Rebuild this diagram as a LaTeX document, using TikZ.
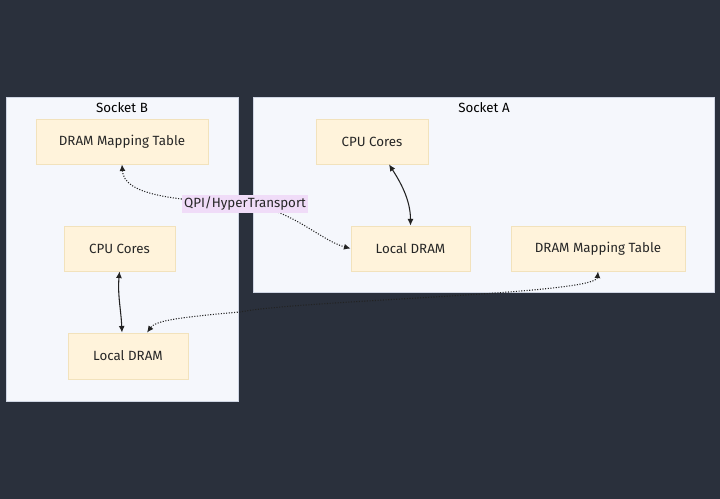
\documentclass[tikz,border=0pt]{standalone}
\usepackage{fontspec}
\setmainfont{Fira Sans}
\usetikzlibrary{arrows.meta,calc}
\definecolor{bgc}{HTML}{2A303C}
\definecolor{clfill}{HTML}{F5F7FC}
\definecolor{cldraw}{HTML}{CFD5E3}
\definecolor{nfill}{HTML}{FFF3DB}
\definecolor{ndraw}{HTML}{F2E2BC}
\definecolor{lblfill}{HTML}{F0DCF8}
\definecolor{edgec}{HTML}{222222}
\tikzset{
  cluster/.style={draw=cldraw, fill=clfill, line width=0.6pt},
  ctitle/.style={font=\fontsize{10}{12}\selectfont, text=black},
  box/.style={draw=ndraw, fill=nfill, line width=0.6pt, font=\fontsize{10}{12}\selectfont, text=black!85, inner sep=0pt},
  solidedge/.style={draw=edgec, line width=0.8pt, {Latex[length=5pt,width=4.5pt]}-{Latex[length=5pt,width=4.5pt]}},
  dotedge/.style={draw=edgec, line width=0.8pt, dash pattern=on 0.8pt off 1.2pt, {Latex[length=5pt,width=4.5pt]}-{Latex[length=5pt,width=4.5pt]}},
  elabel/.style={fill=lblfill, font=\fontsize{10}{12}\selectfont, text=black!85, inner sep=1.5pt}
}
\begin{document}
\begin{tikzpicture}[x=0.75pt,y=-0.75pt]
\useasboundingbox (0,0) rectangle (720,499);
\fill[bgc] (0,0) rectangle (720,499);
% clusters
\draw[cluster] (6,97) rectangle (238,401);
\draw[cluster] (253,97) rectangle (714,292);
\node[ctitle] (tB) at (122,108) {Socket B};
\node[ctitle] (tA) at (484,108) {Socket A};
% Socket B nodes
\node[box, minimum width=129pt, minimum height=33.75pt] (bmap) at (122,141.5) {DRAM Mapping Table};
\node[box, minimum width=83.25pt, minimum height=33.75pt] (bcpu) at (119.5,248.5) {CPU Cores};
\node[box, minimum width=90pt, minimum height=34.5pt] (bdram) at (128,356) {Local DRAM};
% Socket A nodes
\node[box, minimum width=84pt, minimum height=33.75pt] (acpu) at (372,141.5) {CPU Cores};
\node[box, minimum width=89.25pt, minimum height=33.75pt] (adram) at (410.5,248.5) {Local DRAM};
\node[box, minimum width=130.5pt, minimum height=33.75pt] (amap) at (598,248.5) {DRAM Mapping Table};
% position of the QPI label
\coordinate (lblpos) at (245,204);
\coordinate (midlow) at (240,312);
% solid edges
\draw[solidedge] (bcpu.south) .. controls ($(bcpu.south)+(-2,24)$) and ($(bdram.north)+(-7,-23)$) .. ($(bdram.north)+(-6,0)$);
\draw[solidedge] ($(acpu.south)+(17,0)$) .. controls ($(acpu.south)+(28,17)$) and ($(adram.north)+(0,-26)$) .. (adram.north);
% dotted edges
\draw[dotedge] (bmap.south) .. controls ($(bmap.south)+(2,30)$) and ($(lblpos)+(-75,-4)$) .. (lblpos) .. controls ($(lblpos)+(45,4)$) and ($(adram.west)+(-30,-8)$) .. (adram.west);
\draw[dotedge] (amap.south) .. controls ($(amap.south)+(-2,23)$) and (300,300) .. (midlow) .. controls (170,318) and ($(bdram.north)+(27,-11)$) .. ($(bdram.north)+(19,0)$);
% label on top of the edge
\node[elabel] (lbl) at (lblpos) {QPI/HyperTransport};
\end{tikzpicture}
\end{document}
